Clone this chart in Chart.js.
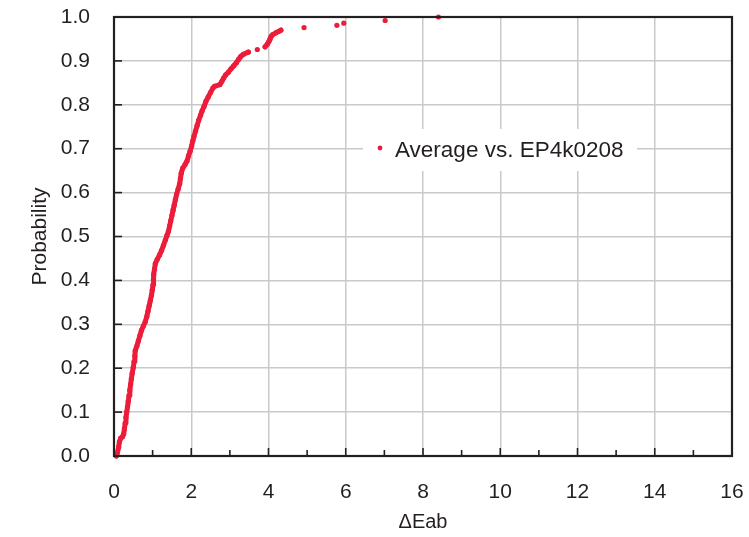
<!DOCTYPE html>
<html lang="en">
<head>
<meta charset="UTF-8">
<title>Probability vs ΔEab</title>
<script src="https://cdn.jsdelivr.net/npm/chart.js"></script>
<style>
  html, body { margin: 0; padding: 0; background: #fff; }
  #wrap { width: 749px; height: 537px; }
</style>
</head>
<body>
<div id="wrap"><canvas id="myChart"></canvas></div>
<script>
// values
const seriesLabel = 'Average vs. EP4k0208';
const dE = [
  0.06, 0.09, 0.12, 0.14, 0.17, 0.22, 0.25, 0.27, 0.29, 0.31,
  0.33, 0.35, 0.37, 0.39, 0.41, 0.43, 0.45, 0.47, 0.50, 0.52,
  0.54, 0.55, 0.59, 0.63, 0.67, 0.71, 0.76, 0.81, 0.85, 0.88,
  0.91, 0.94, 0.97, 0.99, 1.01, 1.02, 1.03, 1.05, 1.07, 1.12,
  1.18, 1.23, 1.28, 1.33, 1.37, 1.41, 1.44, 1.47, 1.50, 1.53,
  1.56, 1.59, 1.62, 1.66, 1.70, 1.72, 1.74, 1.78, 1.84, 1.89,
  1.93, 1.97, 2.01, 2.04, 2.07, 2.11, 2.15, 2.19, 2.24, 2.28,
  2.33, 2.38, 2.44, 2.50, 2.56, 2.60, 2.74, 2.79, 2.84, 2.89,
  2.96, 3.03, 3.10, 3.17, 3.23, 3.28, 3.35, 3.48, 3.71, 3.91,
  3.97, 4.01, 4.04, 4.07, 4.11, 4.19, 4.26, 4.32, 4.92, 5.77,
  5.95, 7.02, 8.40
];
const prob = [
  0.000, 0.008, 0.020, 0.032, 0.040, 0.044, 0.050, 0.062, 0.075, 0.088,
  0.100, 0.112, 0.125, 0.138, 0.150, 0.163, 0.176, 0.188, 0.202, 0.215,
  0.228, 0.240, 0.250, 0.262, 0.274, 0.286, 0.296, 0.306, 0.318, 0.330,
  0.342, 0.354, 0.366, 0.378, 0.390, 0.402, 0.414, 0.426, 0.438, 0.448,
  0.458, 0.468, 0.480, 0.492, 0.502, 0.512, 0.524, 0.536, 0.548, 0.560,
  0.572, 0.584, 0.596, 0.608, 0.620, 0.632, 0.644, 0.656, 0.664, 0.672,
  0.684, 0.694, 0.706, 0.718, 0.728, 0.740, 0.752, 0.764, 0.776, 0.786,
  0.796, 0.808, 0.818, 0.828, 0.838, 0.842, 0.846, 0.853, 0.861, 0.868,
  0.874, 0.882, 0.889, 0.896, 0.904, 0.910, 0.915, 0.920, 0.926, 0.932,
  0.938, 0.944, 0.950, 0.956, 0.960, 0.964, 0.967, 0.970, 0.976, 0.981,
  0.986, 0.992, 1.000
];
const xTitle = 'ΔEab';
const yTitle = 'Probability';

const RED = '#ec1c3a';
const INK = '#231f20';
const FONT = "'Liberation Sans', Arial, Helvetica, sans-serif";

const points = dE.map((x, i) => ({ x: x, y: prob[i] }));

// box round the plot, ticks pointing inward, legend box inside the plot
const framePlugin = {
  id: 'frame',
  afterDatasetsDraw(chart) {
    const c = chart.ctx;
    const a = chart.chartArea;
    const xs = chart.scales.x;
    const ys = chart.scales.y;
    c.save();
    c.strokeStyle = INK;
    c.lineWidth = 1.6;
    // x ticks: major every 2, minor every 1
    for (let v = 1; v < 16; v++) {
      const px = xs.getPixelForValue(v);
      const len = v % 2 === 0 ? 8 : 6;
      c.beginPath();
      c.moveTo(px, a.bottom);
      c.lineTo(px, a.bottom - len);
      c.stroke();
    }
    for (let v = 1; v < 10; v++) {
      const py = ys.getPixelForValue(v / 10);
      c.beginPath();
      c.moveTo(a.left, py);
      c.lineTo(a.left + 8, py);
      c.stroke();
    }
    c.lineWidth = 2.2;
    c.strokeRect(a.left, a.top, a.right - a.left, a.bottom - a.top);

    // legend
    c.fillStyle = '#fff';
    c.fillRect(363, 129, 274, 42);
    c.fillStyle = RED;
    c.beginPath();
    c.arc(380, 148, 2.4, 0, Math.PI * 2);
    c.fill();
    c.fillStyle = INK;
    c.font = '22.5px ' + FONT;
    c.textBaseline = 'alphabetic';
    c.fillText(chart.data.datasets[0].label, 395, 156.5);
    c.restore();
  }
};

const ctx = document.getElementById('myChart');
new Chart(ctx, {
  type: 'scatter',
  data: {
    datasets: [{
      label: seriesLabel,
      data: points,
      showLine: true,
      borderWidth: 5,
      borderCapStyle: 'round',
      borderJoinStyle: 'round',
      borderColor: RED,
      backgroundColor: RED,
      pointRadius: 2.6,
      pointBorderWidth: 0,
      pointHoverRadius: 2.6,
      clip: false,
      segment: {
        // only join the dots where they sit close together
        borderColor: s => Math.hypot(s.p1.x - s.p0.x, s.p1.y - s.p0.y) > 7 ? 'rgba(0,0,0,0)' : RED
      }
    }]
  },
  options: {
    responsive: true,
    maintainAspectRatio: false,
    animation: false,
    layout: { padding: { left: 0, right: 17, top: 17, bottom: 0 } },
    plugins: {
      legend: { display: false },
      tooltip: { enabled: false }
    },
    scales: {
      x: {
        type: 'linear',
        min: 0,
        max: 16,
        border: { display: false },
        grid: { color: '#c9c9c9', lineWidth: 1.5, drawTicks: false },
        ticks: { stepSize: 2, padding: 24, color: INK, font: { family: FONT, size: 21 } },
        title: { display: true, text: xTitle, color: INK, font: { family: FONT, size: 20 }, padding: { top: 0, bottom: 3 } },
        afterFit: s => { s.height = 81; s.paddingLeft = 0; s.paddingRight = 0; }
      },
      y: {
        min: 0,
        max: 1,
        border: { display: false },
        grid: { color: '#c9c9c9', lineWidth: 1.5, drawTicks: false },
        ticks: { stepSize: 0.1, padding: 24, color: INK, font: { family: FONT, size: 21 }, callback: v => v.toFixed(1) },
        title: { display: true, text: yTitle, color: INK, font: { family: FONT, size: 21 }, padding: { top: 28, bottom: 0 } },
        afterFit: s => { s.width = 114; s.paddingTop = 0; s.paddingBottom = 0; }
      }
    }
  },
  plugins: [framePlugin]
});
</script>
</body>
</html>
